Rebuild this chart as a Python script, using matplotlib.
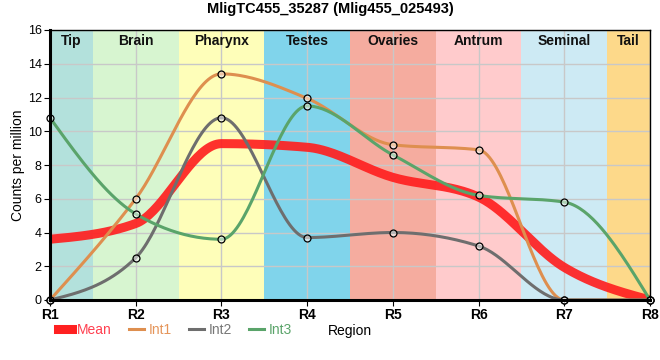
import numpy as np
import matplotlib.pyplot as plt
from matplotlib.lines import Line2D

plt.rcParams['font.family'] = ['Liberation Sans', 'DejaVu Sans']

# Region positions and tissue bands
regions = ['R1', 'R2', 'R3', 'R4', 'R5', 'R6', 'R7', 'R8']
tissues = ['Tip', 'Brain', 'Pharynx', 'Testes', 'Ovaries', 'Antrum', 'Seminal', 'Tail']
tissue_colors = ['#b3e1dc', '#d7f5d0', '#fefeb9', '#80d4eb',
                 '#f5ac9f', '#ffcbcc', '#cdeaf4', '#fdd98a']

# Counts per million for the three individuals
int1 = [0.0, 6.0, 13.4, 11.95, 9.2, 8.9, 0.0, 0.0]
int2 = [0.0, 2.5, 10.8, 3.7, 4.0, 3.2, 0.0, 0.0]
int3 = [10.8, 5.1, 3.6, 11.5, 8.6, 6.2, 5.8, 0.0]
mean = list(np.mean([int1, int2, int3], axis=0))

title = 'MligTC455_35287 (Mlig455_025493)'


def monotone_curve(x, y, n=40):
    # monotone cubic (same as d3 curveMonotoneX) for drawing the line
    x = np.asarray(x, float)
    y = np.asarray(y, float)
    h = np.diff(x)
    s = np.diff(y) / h
    t = np.zeros(len(x))
    for i in range(1, len(x) - 1):
        s0, s1 = s[i - 1], s[i]
        p = (s0 * h[i] + s1 * h[i - 1]) / (h[i - 1] + h[i])
        t[i] = (np.sign(s0) + np.sign(s1)) * min(abs(s0), abs(s1), 0.5 * abs(p))
    t[0] = (3 * s[0] - t[1]) / 2
    t[-1] = (3 * s[-1] - t[-2]) / 2
    xs, ys = [], []
    for i in range(len(x) - 1):
        u = np.linspace(0, 1, n)
        h00 = 2 * u**3 - 3 * u**2 + 1
        h10 = u**3 - 2 * u**2 + u
        h01 = -2 * u**3 + 3 * u**2
        h11 = u**3 - u**2
        xs.append(x[i] + u * h[i])
        ys.append(h00 * y[i] + h10 * h[i] * t[i] + h01 * y[i + 1] + h11 * h[i] * t[i + 1])
    return np.concatenate(xs), np.concatenate(ys)


fig = plt.figure(figsize=(6.6, 3.6), dpi=100)
ax = fig.add_axes([50 / 660, 60 / 360, 600 / 660, 270 / 360])

xpos = np.arange(len(regions))
for i, (name, col) in enumerate(zip(tissues, tissue_colors)):
    lo, hi = max(i - 0.5, 0), min(i + 0.5, len(regions) - 1)
    ax.axvspan(lo, hi, color=col, lw=0, zorder=0)
    ax.text((lo + hi) / 2, 15.75, name, ha='center', va='top',
            fontsize=10, fontweight='bold', color='#111111', zorder=5)

ax.grid(True, color='#c8c8c8', lw=1, zorder=1)
ax.set_axisbelow(False)
for gl in ax.get_xgridlines() + ax.get_ygridlines():
    gl.set_zorder(1)

series = [
    ('Int1', int1, '#de8f4f'),
    ('Int2', int2, '#6e6e6e'),
    ('Int3', int3, '#5aa46a'),
]
cx, cy = monotone_curve(xpos, mean)
ax.plot(cx, cy, color='#ff2020', lw=6.5, alpha=0.92, solid_capstyle='butt', zorder=3)
for name, vals, col in series:
    cx, cy = monotone_curve(xpos, vals)
    ax.plot(cx, cy, color=col, lw=2.2, zorder=3)
    ax.plot(xpos, vals, 'o', ms=5, mfc=(1, 1, 1, 0.5), mec='black', mew=0.9,
            zorder=4, clip_on=False)

ax.set_xlim(0, 7)
ax.set_ylim(0, 16)
ax.set_xticks(xpos)
ax.set_xticklabels(regions, fontsize=10, fontweight='bold')
ax.set_yticks(np.arange(0, 17, 2))
ax.tick_params(axis='y', labelsize=9, length=4, pad=2)
ax.tick_params(axis='x', length=4, pad=2)
ax.set_ylabel('Counts per million', fontsize=10, labelpad=2)

for side in ['top', 'right']:
    ax.spines[side].set_linewidth(1)
for side in ['left', 'bottom']:
    ax.spines[side].set_linewidth(2.2)
for sp in ax.spines.values():
    sp.set_zorder(6)

fig.suptitle(title, fontsize=10.5, fontweight='bold', y=0.995)

handles = [Line2D([], [], color='#ff2020', lw=6.5)] + \
          [Line2D([], [], color=c, lw=2.2) for _, _, c in series]
labels = ['Mean'] + [n for n, _, _ in series]
leg = fig.legend(handles, labels, loc='center left', bbox_to_anchor=(52 / 660, 1 - 330 / 360),
                 ncol=4, frameon=False, fontsize=10, handlelength=1.05,
                 handletextpad=0.35, columnspacing=1.25, borderaxespad=0)
for txt, col in zip(leg.get_texts(), ['#ff4050', '#e5955a', '#777777', '#5aa46a']):
    txt.set_color(col)
fig.text(350 / 660, 1 - 331 / 360, 'Region', ha='center', va='center', fontsize=10)

fig.savefig('out.png', dpi=100)
